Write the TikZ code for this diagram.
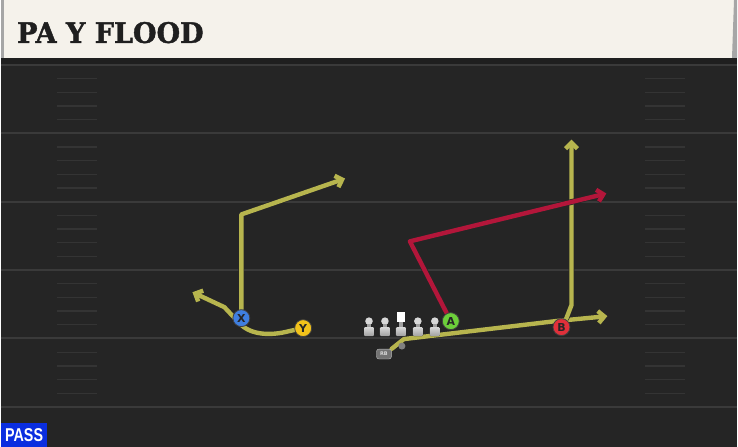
\documentclass[tikz,border=0pt]{standalone}
\usepackage{fontspec}
\usepackage{graphicx}
\setmainfont{DejaVu Sans}
\newfontfamily\titlefont[FakeBold=1.5]{DejaVu Serif Bold}
\newfontfamily\passfont{Liberation Sans}
\usetikzlibrary{arrows.meta}
\definecolor{fieldbg}{HTML}{252525}
\definecolor{fieldline}{HTML}{3A3A3A}
\definecolor{hashcol}{HTML}{343434}
\definecolor{cream}{HTML}{F5F2EB}
\definecolor{olive}{HTML}{B7B54E}
\definecolor{crimson}{HTML}{B3163A}
\definecolor{xblue}{HTML}{3F7FE0}
\definecolor{yyellow}{HTML}{F2C21A}
\definecolor{agreen}{HTML}{6CCF3A}
\definecolor{bred}{HTML}{E0303A}
\definecolor{passblue}{HTML}{0A2EE0}
\definecolor{olgrey}{HTML}{D8D8D8}
\definecolor{olgreyd}{HTML}{A0A0A0}
\pgfdeclarelayer{back}
\pgfdeclarelayer{routes}
\pgfsetlayers{back,routes,main}
\tikzset{
  route/.style={line width=4.4pt, line join=round, line cap=round,
    preaction={draw=black!85, line width=5.8pt}},
  tip/.style={-{Straight Barb[length=6pt,width=12pt]}},
  player/.style={circle, minimum size=17pt, inner sep=0pt, draw=black!75, line width=0.8pt,
    font=\bfseries\fontsize{11}{11}\selectfont, text=black!85},
  hashmark/.style={draw=hashcol, line width=1.3pt},
  yardline/.style={draw=fieldline, line width=2pt},
  lineman/.pic={
    \fill[olgrey] (0,-15) circle (3.8);
    \fill[olgreyd] (-1.8,-12) rectangle (1.8,-8.5);
    \fill[top color=olgrey, bottom color=olgreyd, rounded corners=1pt] (-5,-9) rectangle (5,0);
  },
  center/.pic={
    \fill[white] (-4,-24) rectangle (4,-14);
    \fill[olgreyd] (-1.8,-14) rectangle (1.8,-8.5);
    \fill[top color=olgrey, bottom color=olgreyd, rounded corners=1pt] (-5,-9) rectangle (5,0);
  }
}
\begin{document}
\begin{tikzpicture}[x=1pt,y=-1pt]
\begin{pgfonlayer}{back}
\fill[fieldbg] (0,0) rectangle (738,448);
\foreach \k in {0,...,5} {
  \draw[yardline] (0,65+68.6*\k) -- (738,65+68.6*\k);
}
\foreach \k in {0,...,4} {
  \foreach \j in {1,...,4} {
    \draw[hashmark] (56,65+68.6*\k+13.72*\j) -- (96,65+68.6*\k+13.72*\j);
    \draw[hashmark] (646,65+68.6*\k+13.72*\j) -- (686,65+68.6*\k+13.72*\j);
  }
}
\fill[black!88] (0,58) rectangle (738,64);
\fill[cream] (3,0) rectangle (735,58);
\fill[black!35] (0,0) rectangle (3,58);
\fill[black!35] (735,0) -- (738,0) -- (738,58) -- (733,58) -- cycle;
\end{pgfonlayer}
\useasboundingbox (0,0) rectangle (738,448);

\node[anchor=base west, inner sep=0pt, text=black!88] (title) at (16,43)
  {\resizebox{187pt}{21pt}{\titlefont PA Y FLOOD}};

% players
\node[player, fill=xblue] (X) at (241,319) {X};
\node[player, fill=yyellow] (Y) at (303,329) {Y};
\node[player, fill=agreen] (A) at (451,322) {A};
\node[player, fill=bred] (B) at (562,328) {B};

% line
\pic (LT) at (369,337) {lineman};
\pic (LG) at (385,337) {lineman};
\pic (C) at (401,337) {center};
\pic (RG) at (418,337) {lineman};
\pic (RT) at (435,337) {lineman};

\node[circle, fill=black!50, minimum size=7pt, inner sep=0pt] (QB) at (402,347) {};
\node[draw=black!25, fill=black!55, rounded corners=2.5pt, minimum width=15pt, minimum height=10pt,
  inner sep=0pt, font=\bfseries\fontsize{5}{5}\selectfont, text=white!85!black] (RB) at (384,355) {RB};

% route coordinates
\coordinate (x1) at (241,215);
\coordinate (x2) at (345,179);
\coordinate (y1) at (289,332);
\coordinate (y2) at (239,324);
\coordinate (y3) at (224,308);
\coordinate (y4) at (192,293);
\coordinate (a1) at (410,242);
\coordinate (a2) at (607,194);
\coordinate (b1) at (572,306);
\coordinate (b2) at (572,140);
\coordinate (r1) at (404,340);
\coordinate (r2) at (556,322);
\coordinate (r3) at (608,317);

\begin{pgfonlayer}{routes}
\draw[route, olive, tip] (X) -- (x1) -- (x2);
\draw[route, olive, tip] (Y) -- (y1) .. controls (270,337) and (250,336) .. (y2) -- (y3) -- (y4);
\draw[route, olive, tip] (RB.north east) -- (r1) -- (r2) -- (r3);
\draw[route, olive, tip] (B.60) -- (b1) -- (b2);
\draw[route, crimson, tip] (A) -- (a1) -- (a2);
\end{pgfonlayer}

\node[fill=passblue, text=white, anchor=south west, minimum width=46pt, minimum height=24pt,
  inner sep=0pt] (pass) at (0,448) {\resizebox{38pt}{13pt}{\passfont\bfseries PASS}};
\end{tikzpicture}
\end{document}
